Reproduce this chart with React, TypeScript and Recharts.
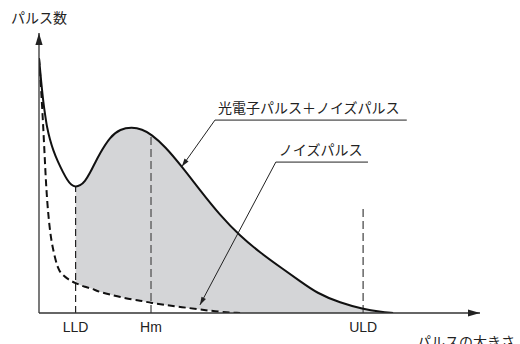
import React from 'react';
import {
  ComposedChart,
  Line,
  Area,
  XAxis,
  YAxis,
  ReferenceLine
} from 'recharts';

// pulse height (arbitrary units) and counts
const pulseHeight = [0, 0.5, 1, 1.4, 1.8, 2.5, 3.2, 4.3, 5.4, 6.4, 7.3, 8.3, 9.3, 10.4, 11.6, 12.7, 13.8, 16.1, 18.4, 21.1, 23.4, 25.4, 28.6, 32.4, 36.5, 41, 45.6, 50.1, 55.3, 59.2, 63, 68.3, 73.5, 77.3, 80.3];
const totalPulses = [91, 82.5, 75, 70.7, 66.4, 61.8, 58.2, 53.9, 50.4, 47.5, 45.7, 45, 45.5, 46.9, 50.1, 53.6, 57, 62.9, 65.7, 66.4, 65.6, 63.9, 59.5, 52.3, 43.9, 35, 27.5, 21.6, 15.7, 11.4, 7.1, 3.6, 1.4, 0.4, 0];
const noisePulses = [91, 79.6, 65.4, 52.1, 40.4, 28.6, 22.5, 15.4, 13.6, 12.3, 11.4, 10.7, 10, 9.3, 8.9, 8.2, 7.5, 6.6, 5.7, 4.8, 4.3, 3.6, 2.9, 2.1, 1.25, 0.4, 0, null, null, null, null, null, null, null, null];

const LLD = 8.3;
const HM = 25.4;
const ULD = 73.5;
const tickNames: Record<number, string> = { [LLD]: 'LLD', [HM]: 'Hm', [ULD]: 'ULD' };

const data = pulseHeight.map((x, i) => ({
  x,
  total: totalPulses[i],
  noise: noisePulses[i],
  band: x >= LLD ? [noisePulses[i] ?? 0, totalPulses[i]] : null
}));

const at = (x: number) => totalPulses[pulseHeight.indexOf(x)];

const JP = '"Noto Sans CJK JP", "Noto Sans", sans-serif';
const LATIN = '"Liberation Sans", Arial, sans-serif';

function arrowHead(x1: number, y1: number, x2: number, y2: number, len: number, half: number) {
  const a = Math.atan2(y2 - y1, x2 - x1);
  const bx = x2 - len * Math.cos(a);
  const by = y2 - len * Math.sin(a);
  const px = -Math.sin(a) * half;
  const py = Math.cos(a) * half;
  return `${x2},${y2} ${bx + px},${by + py} ${bx - px},${by - py}`;
}

const axisArrow = (label: string, dx: number, dy: number, anchor: string) => (props: any) => {
  const { x1, y1, x2, y2 } = props;
  return (
    <g>
      <line x1={x1} y1={y1} x2={x2} y2={y2} stroke="#333" strokeWidth={1.3} />
      <polygon points={arrowHead(x1, y1, x2, y2, 12, 3.6)} fill="#222" />
      <text x={x2 + dx} y={y2 + dy} textAnchor={anchor} fontSize={14} fontFamily={JP} fill="#222">
        {label}
      </text>
    </g>
  );
};

const leader = (props: any) => {
  const { x1, y1, x2, y2 } = props;
  return (
    <g>
      <line x1={x1} y1={y1} x2={x2} y2={y2} stroke="#222" strokeWidth={1} />
      <polygon points={arrowHead(x1, y1, x2, y2, 8, 2.5)} fill="#222" />
    </g>
  );
};

const underline = (label: string) => (props: any) => {
  const { x1, y1, x2, y2 } = props;
  return (
    <g>
      <line x1={x1} y1={y1} x2={x2} y2={y2} stroke="#222" strokeWidth={1} />
      <text x={x1 + 3} y={y1 - 7} fontSize={14} fontFamily={JP} fill="#222">
        {label}
      </text>
    </g>
  );
};

export default function App() {
  return (
    <div style={{ position: 'absolute', left: 0, top: 0, width: 520, height: 344, background: '#fff' }}>
      <ComposedChart width={520} height={344} data={data} margin={{ top: 33, right: 40, left: 39, bottom: 0 }}>
        <XAxis
          dataKey="x"
          type="number"
          domain={[0, 100]}
          ticks={[LLD, HM, ULD]}
          tickFormatter={(v: number) => tickNames[v] ?? ''}
          axisLine={false}
          tickLine={false}
          tickSize={6}
          tickMargin={3}
          height={31}
          tick={{ fontSize: 14, fill: '#222', fontFamily: LATIN }}
          allowDataOverflow
        />
        <YAxis type="number" domain={[0, 100]} hide allowDataOverflow />
        <Area
          dataKey="band"
          type="basis"
          fill="#d4d5d7"
          fillOpacity={1}
          stroke="none"
          isAnimationActive={false}
          connectNulls={false}
        />
        <ReferenceLine segment={[{ x: LLD, y: 0 }, { x: LLD, y: at(LLD) }]} stroke="#222" strokeWidth={1.2} strokeDasharray="7 4" ifOverflow="visible" />
        <ReferenceLine segment={[{ x: HM, y: 0 }, { x: HM, y: at(HM) }]} stroke="#666" strokeWidth={1.5} strokeDasharray="8 4" ifOverflow="visible" />
        <ReferenceLine segment={[{ x: ULD, y: 0 }, { x: ULD, y: 38.2 }]} stroke="#666" strokeWidth={1.5} strokeDasharray="8 4" ifOverflow="visible" />
        <Line dataKey="noise" type="basis" stroke="#111" strokeWidth={2} strokeDasharray="7 4" dot={false} isAnimationActive={false} />
        <Line dataKey="total" type="basis" stroke="#111" strokeWidth={2} dot={false} isAnimationActive={false} />
        <ReferenceLine segment={[{ x: 0, y: 0 }, { x: 100, y: 0 }]} shape={axisArrow('パルスの大きさ', -63, 34, 'start')} ifOverflow="visible" />
        <ReferenceLine segment={[{ x: 0, y: 0 }, { x: 0, y: 100 }]} shape={axisArrow('パルス数', 0, -10, 'middle')} ifOverflow="visible" />
        <ReferenceLine segment={[{ x: 39.9, y: 68.9 }, { x: 32.4, y: at(32.4) }]} shape={leader} ifOverflow="visible" />
        <ReferenceLine segment={[{ x: 39.9, y: 68.9 }, { x: 83.4, y: 68.9 }]} shape={underline('光電子パルス＋ノイズパルス')} ifOverflow="visible" />
        <ReferenceLine segment={[{ x: 53.7, y: 53.9 }, { x: 36.5, y: 2.9 }]} shape={leader} ifOverflow="visible" />
        <ReferenceLine segment={[{ x: 53.7, y: 53.9 }, { x: 74.6, y: 53.9 }]} shape={underline('ノイズパルス')} ifOverflow="visible" />
      </ComposedChart>
    </div>
  );
}
